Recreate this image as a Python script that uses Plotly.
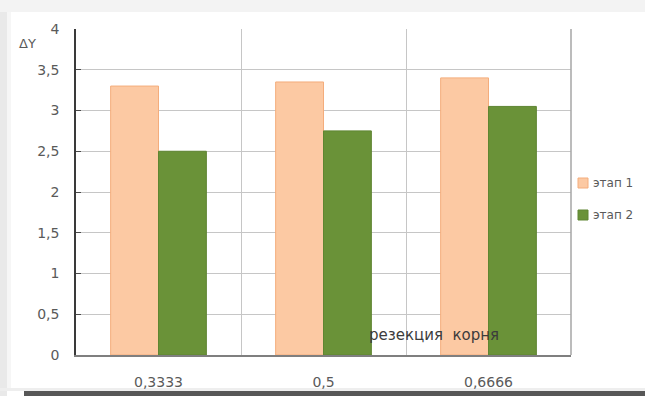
import plotly.graph_objects as go

# Root resection ratio categories and ΔY values for the two stages
categories = ["0,3333", "0,5", "0,6666"]
stage1 = [3.3, 3.35, 3.4]
stage2 = [2.5, 2.75, 3.05]
series_names = ["этап 1", "этап 2"]
series_fill = ["#fcc9a3", "#6a9238"]
series_edge = ["#f4ad7c", "#5f8532"]
y_ticks = [0, 0.5, 1, 1.5, 2, 2.5, 3, 3.5, 4]
y_tick_text = ["0", "0,5", "1", "1,5", "2", "2,5", "3", "3,5", "4"]

W, H = 645, 396
L, R, T, B = 76, 571, 29, 355  # plot area in pixels


def px_x(p):
    return (p - L) / (R - L)


def px_y(p):
    return (B - p) / (B - T)


FONT = "DejaVu Sans"
TICK_COLOR = "#5a5a5a"

fig = go.Figure()
for name, vals, fill, edge in zip(series_names, [stage1, stage2],
                                  series_fill, series_edge):
    fig.add_trace(go.Bar(
        x=categories, y=vals, name=name, showlegend=False,
        marker=dict(color=fill, line=dict(color=edge, width=1)),
    ))

shapes = [
    # soft frame around the chart
    dict(type="rect", xref="paper", yref="paper", layer="below",
         x0=px_x(0), x1=px_x(W), y0=px_y(12), y1=px_y(0),
         fillcolor="#f3f3f3", line=dict(width=0)),
    dict(type="rect", xref="paper", yref="paper", layer="below",
         x0=px_x(0), x1=px_x(7), y0=px_y(H), y1=px_y(12),
         fillcolor="#e9e9e9", line=dict(width=0)),
    dict(type="rect", xref="paper", yref="paper", layer="below",
         x0=px_x(7), x1=px_x(11), y0=px_y(388), y1=px_y(12),
         fillcolor="#f6f6f6", line=dict(width=0)),
    dict(type="rect", xref="paper", yref="paper", layer="below",
         x0=px_x(0), x1=px_x(W), y0=px_y(391), y1=px_y(388),
         fillcolor="#eeeeee", line=dict(width=0)),
    dict(type="rect", xref="paper", yref="paper", layer="above",
         x0=px_x(24), x1=px_x(W), y0=px_y(H), y1=px_y(391),
         fillcolor="#575757", line=dict(width=0)),
    # right border of the plot area
    dict(type="line", xref="paper", yref="paper", layer="above",
         x0=1, x1=1, y0=0, y1=1, line=dict(color="#a6a6a6", width=1.5)),
]

annotations = [
    dict(text="ΔY", xref="paper", yref="paper", x=px_x(27), y=px_y(44),
         xanchor="center", yanchor="middle", showarrow=False,
         font=dict(size=13, color="#5a5a5a")),
    dict(text="резекция  корня", xref="paper", yref="paper",
         x=px_x(434), y=px_y(335), xanchor="center", yanchor="middle",
         showarrow=False, font=dict(size=15, color="#3c3c3c")),
]

# legend: swatch + label for each stage, placed right of the plot area
legend_rows = [183, 215]
for name, fill, edge, row in zip(series_names, series_fill, series_edge,
                                 legend_rows):
    shapes.append(dict(
        type="rect", xref="paper", yref="paper", layer="above",
        x0=px_x(578), x1=px_x(588), y0=px_y(row + 5), y1=px_y(row - 5),
        fillcolor=fill, line=dict(color=edge, width=1),
    ))
    annotations.append(dict(
        text=name, xref="paper", yref="paper", x=px_x(591), y=px_y(row),
        xanchor="left", yanchor="middle", showarrow=False,
        font=dict(size=12, color="#5a5a5a"),
    ))

fig.update_layout(
    width=W, height=H,
    margin=dict(l=L, r=W - R, t=T, b=H - B, autoexpand=False),
    paper_bgcolor="white", plot_bgcolor="white",
    font=dict(family=FONT, size=14, color=TICK_COLOR),
    barmode="group", bargap=0.42, bargroupgap=0,
    separators=", ",
    showlegend=False,
    shapes=shapes,
    annotations=annotations,
)

fig.update_xaxes(
    type="category", tickson="boundaries",
    showgrid=True, gridcolor="#c6c6c6", gridwidth=1,
    showline=True, linecolor="#7f7f7f", linewidth=2,
    ticks="", ticklabelstandoff=13,
    tickfont=dict(size=14, color=TICK_COLOR),
)
fig.update_yaxes(
    range=[0, 4], tickvals=y_ticks, ticktext=y_tick_text,
    showgrid=True, gridcolor="#c6c6c6", gridwidth=1,
    showline=True, linecolor="#3a3a3a", linewidth=1.5,
    ticks="inside", ticklen=5, tickcolor="#4a4a4a",
    ticklabelstandoff=12, zeroline=False,
    tickfont=dict(size=14, color=TICK_COLOR),
)

fig.write_html("out.html")
